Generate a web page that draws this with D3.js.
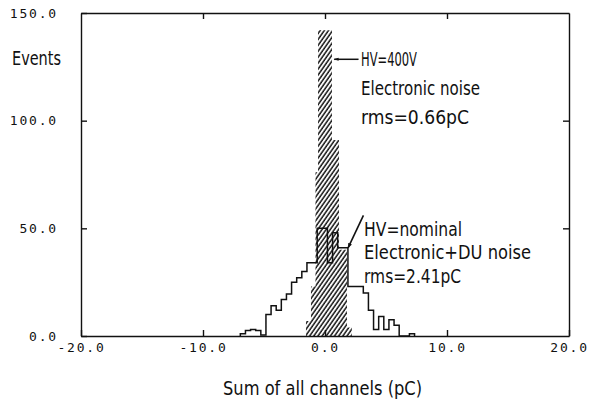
<!DOCTYPE html>
<html>
<head>
<meta charset="utf-8">
<script src="https://cdn.jsdelivr.net/npm/d3@7"></script>
<style>
  html, body { margin: 0; padding: 0; background: #fff; }
  svg { display: block; }
</style>
</head>
<body>
<div id="chart"></div>
<script>
// HV = nominal (open histogram): fixed-width bins
const openStart = -6.94;
const openBinWidth = 0.42;
const openCounts = [1, 2.5, 3, 2.5, 0.5, 10, 14, 12, 17, 19.5, 25, 27, 30, 34, 34, 50, 50, 34, 48, 41, 41,
  23, 23, 23, 20, 12, 3, 9, 3, 7.5, 5, 0, 0, 1];

// HV = 400V (hatched histogram): bin edges in pC, counts per bin
const noiseEdges = [-1.56, -1.15, -0.78, -0.57, 0.57, 1.15, 1.8, 2.2];
const noiseCounts = [7, 23, 76, 142, 91, 40, 4];

const xTicks = [-20, -10, 0, 10, 20];
const yTicks = [0, 50, 100, 150];

const noiseLabel = ['HV=400V', 'Electronic noise', 'rms=0.66pC'];
const nominalLabel = ['HV=nominal', 'Electronic+DU noise', 'rms=2.41pC'];

const W = 589, H = 405;
const x = d3.scaleLinear().domain([-20, 20]).range([81, 569]);
const y = d3.scaleLinear().domain([0, 150]).range([336, 13]);

const svg = d3.select('#chart').append('svg')
  .attr('width', W)
  .attr('height', H);

const defs = svg.append('defs');
const hatch = defs.append('pattern')
  .attr('id', 'hatch')
  .attr('patternUnits', 'userSpaceOnUse')
  .attr('width', 3.4)
  .attr('height', 6)
  .attr('patternTransform', 'rotate(35)');
hatch.append('line')
  .attr('x1', 1).attr('y1', -1)
  .attr('x2', 1).attr('y2', 7)
  .attr('stroke', '#111')
  .attr('stroke-width', 1.5);

defs.append('marker')
  .attr('id', 'arrow')
  .attr('viewBox', '0 0 10 10')
  .attr('refX', 9).attr('refY', 5)
  .attr('markerWidth', 5).attr('markerHeight', 5)
  .attr('markerUnits', 'userSpaceOnUse')
  .attr('orient', 'auto')
  .append('path')
  .attr('d', 'M0,1L10,5L0,9Z')
  .attr('fill', '#111');
// bigger marker for the 400V arrow
defs.append('marker')
  .attr('id', 'arrowBig')
  .attr('viewBox', '0 0 10 10')
  .attr('refX', 9).attr('refY', 5)
  .attr('markerWidth', 10).attr('markerHeight', 5)
  .attr('markerUnits', 'userSpaceOnUse')
  .attr('orient', 'auto')
  .append('path')
  .attr('d', 'M0,2L10,5L0,8Z')
  .attr('fill', '#111');

// step points for histograms
const noisePts = [[noiseEdges[0], 0]];
noiseCounts.forEach((c, i) => noisePts.push([noiseEdges[i], c]));
noisePts.push([noiseEdges[noiseEdges.length - 1], 0]);

const openPts = [[openStart, 0]];
openCounts.forEach((c, i) => openPts.push([openStart + i * openBinWidth, c]));
openPts.push([openStart + openCounts.length * openBinWidth, 0]);

svg.append('path')
  .datum(noisePts)
  .attr('fill', 'url(#hatch)')
  .attr('stroke', 'none')
  .attr('d', d3.area()
    .x(d => x(d[0]))
    .y0(y(0))
    .y1(d => y(d[1]))
    .curve(d3.curveStepAfter));

svg.append('path')
  .datum(openPts)
  .attr('fill', 'none')
  .attr('stroke', '#111')
  .attr('stroke-width', 1.5)
  .attr('d', d3.line()
    .x(d => x(d[0]))
    .y(d => y(d[1]))
    .curve(d3.curveStepAfter));

// axes, all ticks pointing inward
const fmt = d => d3.format('.1f')(d).replace('\u2212', '-');
const tickFont = g => g.selectAll('text')
  .attr('font-family', '"DejaVu Sans Mono", monospace')
  .attr('font-size', 13)
  .attr('letter-spacing', '1.8px')
  .attr('fill', '#111');

svg.append('g')
  .attr('transform', 'translate(' + x(-20) + ',0)')
  .call(d3.axisLeft(y).tickValues(yTicks).tickFormat(fmt).tickSize(-6).tickSizeOuter(0).tickPadding(23))
  .call(tickFont);
svg.append('g')
  .attr('transform', 'translate(0,' + y(0) + ')')
  .call(d3.axisBottom(x).tickValues(xTicks).tickFormat(fmt).tickSize(-6).tickSizeOuter(0).tickPadding(7))
  .call(tickFont);
svg.append('g')
  .attr('transform', 'translate(' + x(20) + ',0)')
  .call(d3.axisRight(y).tickValues(yTicks.slice(1, 3)).tickFormat('').tickSize(-6).tickSizeOuter(0));
svg.append('g')
  .attr('transform', 'translate(0,' + y(150) + ')')
  .call(d3.axisTop(x).tickValues(xTicks.slice(1, 4)).tickFormat('').tickSize(-6).tickSizeOuter(0));

svg.selectAll('.domain, .tick line')
  .attr('stroke', '#111')
  .attr('stroke-width', 1.4);

// labels in a narrow plotter-like style
function label(txt, px, py, len, anchor) {
  return svg.append('text')
    .attr('x', px)
    .attr('y', py)
    .attr('font-family', '"DejaVu Sans", sans-serif')
    .attr('font-size', 20)
    .attr('fill', '#111')
    .attr('text-anchor', anchor || 'start')
    .attr('textLength', len)
    .attr('lengthAdjust', 'spacingAndGlyphs')
    .text(txt);
}

label('Events', 12, 65, 49);
label('Sum of all channels (pC)', 223, 395, 199);

const noiseLens = [56, 119, 108];
noiseLabel.forEach((t, i) => label(t, x(2.95), y(125.5) + i * 29, noiseLens[i]));
svg.append('line')
  .attr('x1', x(2.75)).attr('y1', y(128.5))
  .attr('x2', x(0.75)).attr('y2', y(128.5))
  .attr('stroke', '#111')
  .attr('stroke-width', 1.5)
  .attr('marker-end', 'url(#arrowBig)');

const nominalLens = [98, 167, 97];
nominalLabel.forEach((t, i) => label(t, x(3.2), y(46.5) + i * 23.5, nominalLens[i]));
svg.append('line')
  .attr('x1', x(3.15)).attr('y1', y(56))
  .attr('x2', x(1.9)).attr('y2', y(41))
  .attr('stroke', '#111')
  .attr('stroke-width', 1.6)
  .attr('marker-end', 'url(#arrow)');
</script>
</body>
</html>
